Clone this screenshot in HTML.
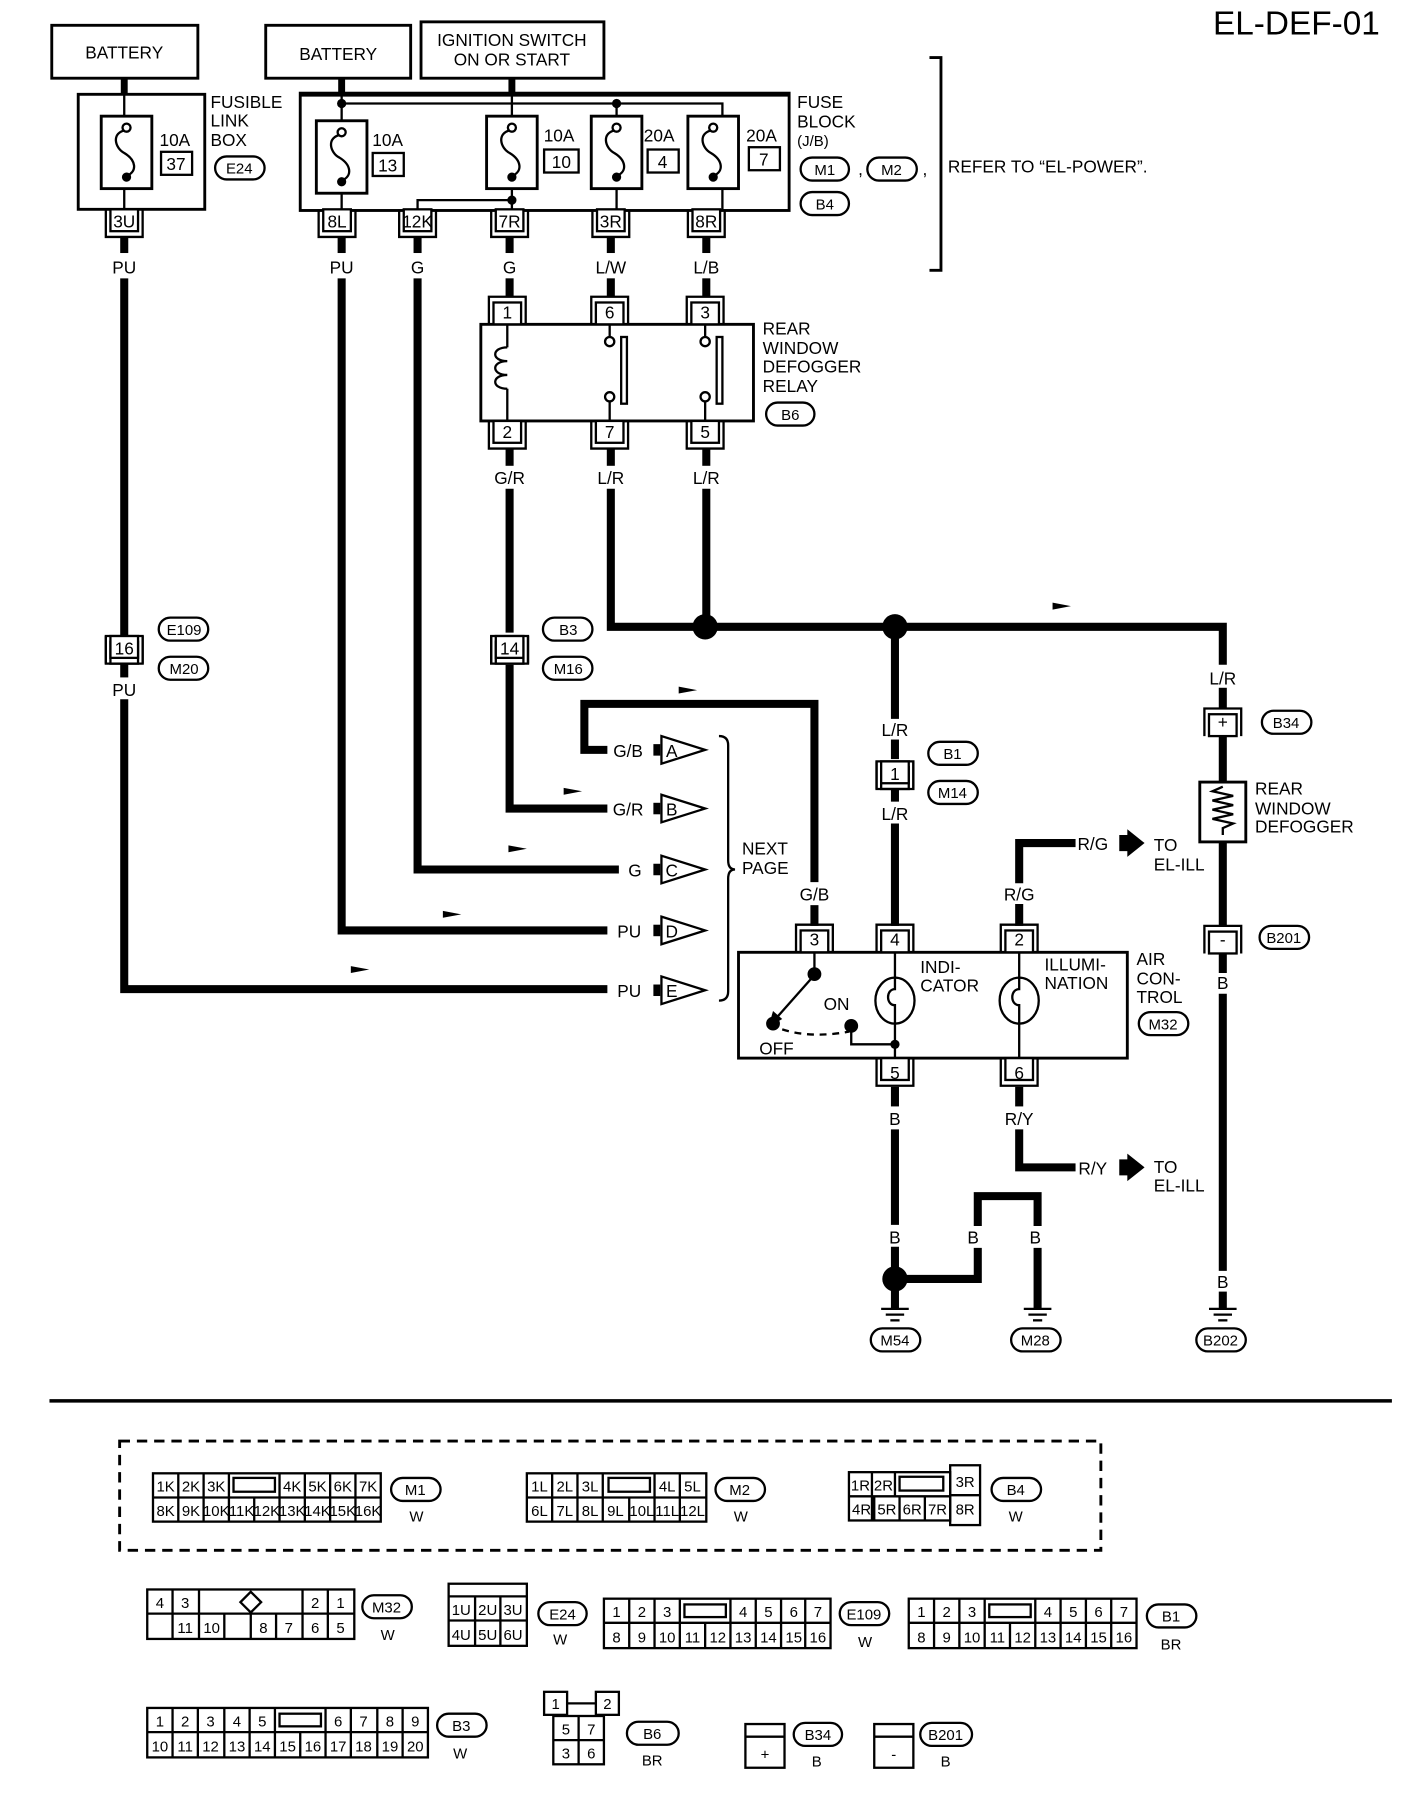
<!DOCTYPE html>
<html><head><meta charset="utf-8"><style>
html,body{margin:0;padding:0;background:#fff}
svg{display:block}
text{font-family:"Liberation Sans",sans-serif;font-size:15px;fill:#000}
.c{text-anchor:middle}
.s{font-size:13px}
</style></head><body>
<svg width="1408" height="1808" viewBox="0 0 1224 1572" preserveAspectRatio="none" xmlns="http://www.w3.org/2000/svg">
<defs>
<g id="cb"><path d="M-16,0 V24 H16 V0" fill="none" stroke="#000" stroke-width="2"/><rect x="-12" y="0" width="24" height="19" fill="#fff" stroke="#000" stroke-width="2"/></g>
<g id="ct"><path d="M-16,24 V0 H16 V24" fill="none" stroke="#000" stroke-width="2"/><rect x="-12" y="5" width="24" height="19" fill="#fff" stroke="#000" stroke-width="2"/></g>
<g id="gnd"><line x1="-12" y1="0" x2="12" y2="0" stroke="#000" stroke-width="2"/><line x1="-8" y1="5" x2="8" y2="5" stroke="#000" stroke-width="2"/><line x1="-4" y1="10" x2="4" y2="10" stroke="#000" stroke-width="2"/></g>
<g id="fuse"><rect x="-22" y="0" width="44" height="63" fill="#fff" stroke="#000" stroke-width="2.5"/><path d="M0,12 C-14,14 -10,28 -2,32 C8,38 10,48 0,52" fill="none" stroke="#000" stroke-width="2"/><circle cx="0" cy="10" r="3.5" fill="#fff" stroke="#000" stroke-width="2"/><circle cx="0" cy="53" r="4" fill="#000"/></g>
<g id="tri"><polygon points="0,-12 38,0 0,12" fill="#fff" stroke="#000" stroke-width="2"/><rect x="-7" y="-5" width="6" height="10" fill="#000"/></g>
<g id="arr"><polygon points="0,-3 16,0 0,3" fill="#000"/></g>
</defs>
<g fill="none" stroke="#000">
<rect x="45" y="22" width="127" height="46" stroke-width="2.5"/>
<rect x="231" y="22" width="126" height="46" stroke-width="2.5"/>
<rect x="366" y="19" width="159" height="49" stroke-width="2.5"/>
<rect x="68" y="82" width="110" height="100" stroke-width="2.5"/>
<rect x="261" y="81" width="425" height="102" stroke-width="2.5"/>
<line x1="261" y1="82" x2="686" y2="82" stroke-width="4"/>
<line x1="108" y1="68" x2="108" y2="83" stroke-width="6"/>
<line x1="297" y1="68" x2="297" y2="83" stroke-width="6"/>
<line x1="445" y1="68" x2="445" y2="83" stroke-width="6"/>
<line x1="108" y1="82" x2="108" y2="182" stroke-width="2"/>
<polyline points="297,82 297,182" stroke-width="2"/>
<polyline points="297,90 628,90 628,182" stroke-width="2"/>
<line x1="445" y1="82" x2="445" y2="182" stroke-width="2"/>
<line x1="536" y1="90" x2="536" y2="182" stroke-width="2"/>
<polyline points="363,183 363,174 445,174" stroke-width="2"/>
<polyline points="808,50 818,50 818,235 808,235" stroke-width="2.5"/>
<line x1="108" y1="206" x2="108" y2="220" stroke-width="7"/>
<line x1="108" y1="242" x2="108" y2="553" stroke-width="7"/>
<polyline points="108,577 108,589" stroke-width="7"/>
<polyline points="108,608 108,860 528,860" stroke-width="7"/>
<line x1="297" y1="206" x2="297" y2="220" stroke-width="7"/>
<polyline points="297,242 297,809 528,809" stroke-width="7"/>
<line x1="363" y1="206" x2="363" y2="220" stroke-width="7"/>
<polyline points="363,242 363,756 538,756" stroke-width="7"/>
<line x1="443" y1="206" x2="443" y2="220" stroke-width="7"/>
<line x1="443" y1="242" x2="443" y2="258" stroke-width="7"/>
<line x1="531" y1="206" x2="531" y2="220" stroke-width="7"/>
<line x1="531" y1="242" x2="531" y2="258" stroke-width="7"/>
<line x1="614" y1="206" x2="614" y2="220" stroke-width="7"/>
<line x1="614" y1="242" x2="614" y2="258" stroke-width="7"/>
<rect x="418" y="282" width="237" height="84" stroke-width="2.5"/>
<line x1="441" y1="282" x2="441" y2="302" stroke-width="2"/>
<path d="M441,302 c-14,0 -14,12 0,12 c-14,0 -14,12 0,12 c-14,0 -14,12 0,12" stroke-width="2"/>
<line x1="441" y1="338" x2="441" y2="366" stroke-width="2"/>
<line x1="530" y1="282" x2="530" y2="293" stroke-width="2"/><line x1="530" y1="349" x2="530" y2="366" stroke-width="2"/>
<circle cx="530" cy="297" r="4" stroke-width="2" fill="#fff"/><circle cx="530" cy="345" r="4" stroke-width="2" fill="#fff"/>
<rect x="540" y="293" width="5" height="58" stroke-width="2"/>
<line x1="613" y1="282" x2="613" y2="293" stroke-width="2"/><line x1="613" y1="349" x2="613" y2="366" stroke-width="2"/>
<circle cx="613" cy="297" r="4" stroke-width="2" fill="#fff"/><circle cx="613" cy="345" r="4" stroke-width="2" fill="#fff"/>
<rect x="623" y="293" width="5" height="58" stroke-width="2"/>
<line x1="443" y1="390" x2="443" y2="405" stroke-width="7"/>
<polyline points="443,425 443,550" stroke-width="7"/>
<polyline points="443,578 443,703 528,703" stroke-width="7"/>
<line x1="531" y1="390" x2="531" y2="405" stroke-width="7"/>
<polyline points="531,425 531,545 1063,545 1063,578" stroke-width="7"/>
<line x1="614" y1="390" x2="614" y2="405" stroke-width="7"/>
<line x1="614" y1="425" x2="614" y2="545" stroke-width="7"/>
<line x1="778" y1="545" x2="778" y2="625" stroke-width="7"/>
<line x1="778" y1="643" x2="778" y2="660" stroke-width="7"/>
<line x1="778" y1="686" x2="778" y2="697" stroke-width="7"/>
<line x1="778" y1="716" x2="778" y2="805" stroke-width="7"/>
<line x1="1063" y1="598" x2="1063" y2="616" stroke-width="7"/>
<line x1="1063" y1="640" x2="1063" y2="680" stroke-width="7"/>
<line x1="1063" y1="732" x2="1063" y2="805" stroke-width="7"/>
<line x1="1063" y1="829" x2="1063" y2="846" stroke-width="7"/>
<line x1="1063" y1="864" x2="1063" y2="1105" stroke-width="7"/>
<line x1="1063" y1="1123" x2="1063" y2="1138" stroke-width="7"/>
<rect x="1043" y="680" width="40" height="52" stroke-width="2.5"/>
<path d="M1063,684 l-9,4 l18,4 l-18,4 l18,4 l-18,4 l18,4 l-18,4 l18,4 l-9,4 v6" stroke-width="2"/>
<polyline points="708,805 708,787" stroke-width="7"/>
<polyline points="708,767 708,612 508,612 508,652 528,652" stroke-width="7"/>
<polyline points="886,805 886,786" stroke-width="7"/>
<polyline points="886,768 886,733 935,733" stroke-width="7"/>
<polyline points="886,945 886,962" stroke-width="7"/>
<polyline points="886,982 886,1015 935,1015" stroke-width="7"/>
<line x1="778" y1="945" x2="778" y2="962" stroke-width="7"/>
<line x1="778" y1="982" x2="778" y2="1065" stroke-width="7"/>
<polyline points="778,1084 778,1138" stroke-width="7"/>
<polyline points="778,1112 850,1112 850,1085" stroke-width="7"/>
<polyline points="850,1066 850,1040 902,1040 902,1066" stroke-width="7"/>
<line x1="902" y1="1085" x2="902" y2="1138" stroke-width="7"/>
<rect x="642" y="828" width="338" height="92" stroke-width="2.5"/>
<line x1="708" y1="828" x2="708" y2="846" stroke-width="2"/>
<line x1="706" y1="850" x2="675" y2="885" stroke-width="2"/>
<path d="M680,895 q25,8 58,2" stroke-width="2" stroke-dasharray="6,5"/>
<polyline points="740,897 740,908 778,908" stroke-width="2"/>
<line x1="778" y1="828" x2="778" y2="920" stroke-width="2"/>
<ellipse cx="778" cy="870" rx="17" ry="20" stroke-width="2" fill="#fff"/>
<path d="M778,850 v10 c-8,0 -8,14 0,14 v16" stroke-width="2"/>
<line x1="886" y1="828" x2="886" y2="920" stroke-width="2"/>
<ellipse cx="886" cy="870" rx="17" ry="20" stroke-width="2" fill="#fff"/>
<path d="M886,850 v10 c-8,0 -8,14 0,14 v16" stroke-width="2"/>
<path d="M625,640 q8,0 8,8 v100 q0,8 6,8 q-6,0 -6,8 v98 q0,8 -8,8" stroke-width="2"/>
<line x1="43" y1="1218" x2="1210" y2="1218" stroke-width="3"/>
<rect x="104" y="1253" width="853" height="95" stroke-width="2.5" stroke-dasharray="9,6"/>
</g>
<g fill="#000">
<circle cx="297" cy="90" r="4"/><circle cx="536" cy="90" r="4"/><circle cx="445" cy="174" r="4"/>
<circle cx="613" cy="545" r="11"/><circle cx="778" cy="545" r="11"/><circle cx="778" cy="1112" r="11"/>
<circle cx="708" cy="847" r="6"/><circle cx="672" cy="890" r="6"/><circle cx="740" cy="892" r="6"/><circle cx="778" cy="908" r="4"/>
<polygon points="668,893 672,879 680,886"/>
</g>
<use href="#fuse" x="110" y="101"/>
<use href="#fuse" x="297" y="105"/>
<use href="#fuse" x="445" y="101"/>
<use href="#fuse" x="536" y="101"/>
<use href="#fuse" x="620" y="101"/>
<g fill="#fff" stroke="#000" stroke-width="2">
<rect x="140" y="132" width="27" height="20"/><rect x="324" y="133" width="27" height="20"/>
<rect x="473" y="130" width="30" height="20"/><rect x="563" y="130" width="27" height="20"/><rect x="651" y="128" width="27" height="20"/>
</g>
<use href="#cb" x="108" y="182"/><use href="#cb" x="293" y="182"/><use href="#cb" x="363" y="182"/>
<use href="#cb" x="443" y="182"/><use href="#cb" x="531" y="182"/><use href="#cb" x="614" y="182"/>
<use href="#ct" x="441" y="258"/><use href="#ct" x="530" y="258"/><use href="#ct" x="613" y="258"/>
<use href="#cb" x="441" y="366"/><use href="#cb" x="530" y="366"/><use href="#cb" x="613" y="366"/>
<use href="#ct" x="108" y="553"/><use href="#cb" x="108" y="553"/>
<use href="#ct" x="443" y="553"/><use href="#cb" x="443" y="553"/>
<use href="#ct" x="778" y="662"/><use href="#cb" x="778" y="662"/>
<use href="#ct" x="1063" y="616"/><use href="#ct" x="1063" y="805"/>
<use href="#ct" x="708" y="804"/><use href="#ct" x="778" y="804"/><use href="#ct" x="886" y="804"/>
<use href="#cb" x="778" y="920"/><use href="#cb" x="886" y="920"/>
<use href="#tri" x="575" y="652"/><use href="#tri" x="575" y="703"/><use href="#tri" x="575" y="756"/><use href="#tri" x="575" y="809"/><use href="#tri" x="575" y="861"/>
<use href="#arr" x="590" y="600"/><use href="#arr" x="490" y="688"/><use href="#arr" x="442" y="738"/><use href="#arr" x="385" y="795"/><use href="#arr" x="305" y="843"/><use href="#arr" x="915" y="527"/>
<polygon points="973,726 980,726 980,721 995,733 980,745 980,740 973,740" fill="#000"/>
<polygon points="973,1008 980,1008 980,1003 995,1015 980,1027 980,1022 973,1022" fill="#000"/>
<use href="#gnd" x="778" y="1138"/><use href="#gnd" x="902" y="1138"/><use href="#gnd" x="1063" y="1138"/>
<g fill="#fff" stroke="#000" stroke-width="2">
<rect x="187" y="136" width="43" height="20" rx="10"/>
<rect x="696" y="137" width="42" height="20" rx="10"/><rect x="754" y="137" width="43" height="20" rx="10"/>
<rect x="696" y="167" width="42" height="20" rx="10"/>
<rect x="666" y="350" width="42" height="20" rx="10"/>
<rect x="138" y="537" width="43" height="20" rx="10"/><rect x="138" y="571" width="43" height="20" rx="10"/>
<rect x="472" y="537" width="43" height="20" rx="10"/><rect x="472" y="571" width="43" height="20" rx="10"/>
<rect x="807" y="645" width="43" height="20" rx="10"/><rect x="807" y="679" width="43" height="20" rx="10"/>
<rect x="1097" y="618" width="43" height="20" rx="10"/><rect x="1095" y="805" width="43" height="20" rx="10"/>
<rect x="990" y="880" width="43" height="20" rx="10"/>
<rect x="757" y="1155" width="43" height="20" rx="10"/><rect x="879" y="1155" width="43" height="20" rx="10"/><rect x="1040" y="1155" width="43" height="20" rx="10"/>
<rect x="340" y="1285" width="43" height="20" rx="10"/><rect x="622" y="1285" width="43" height="20" rx="10"/><rect x="862" y="1285" width="43" height="20" rx="10"/>
<rect x="315" y="1387" width="43" height="20" rx="10"/><rect x="468" y="1393" width="42" height="20" rx="10"/>
<rect x="730" y="1393" width="43" height="20" rx="10"/><rect x="997" y="1395" width="43" height="20" rx="10"/>
<rect x="380" y="1490" width="43" height="20" rx="10"/><rect x="545" y="1497" width="45" height="20" rx="10"/>
<rect x="690" y="1498" width="42" height="20" rx="10"/><rect x="800" y="1498" width="45" height="20" rx="10"/>
</g>
<text x="1127" y="30" class="c" style="font-size:29px">EL-DEF-01</text>
<text x="108" y="51" class="c">BATTERY</text>
<text x="294" y="52" class="c">BATTERY</text>
<text x="445" y="40" class="c">IGNITION SWITCH</text><text x="445" y="57" class="c">ON OR START</text>
<text x="183" y="94">FUSIBLE</text><text x="183" y="110">LINK</text><text x="183" y="127">BOX</text>
<text x="208" y="151" class="c s">E24</text>
<text x="152" y="127" class="c">10A</text><text x="153" y="148" class="c">37</text>
<text x="337" y="127" class="c">10A</text><text x="337" y="149" class="c">13</text>
<text x="486" y="123" class="c">10A</text><text x="488" y="146" class="c">10</text>
<text x="573" y="123" class="c">20A</text><text x="576" y="146" class="c">4</text>
<text x="662" y="123" class="c">20A</text><text x="664" y="144" class="c">7</text>
<text x="693" y="94">FUSE</text><text x="693" y="111">BLOCK</text><text x="693" y="127" class="s">(J/B)</text>
<text x="717" y="152" class="c s">M1</text><text x="746" y="152">,</text><text x="775" y="152" class="c s">M2</text><text x="802" y="152">,</text>
<text x="717" y="182" class="c s">B4</text>
<text x="824" y="150">REFER TO “EL-POWER”.</text>
<text x="108" y="198" class="c">3U</text><text x="293" y="198" class="c">8L</text><text x="363" y="198" class="c">12K</text>
<text x="443" y="198" class="c">7R</text><text x="531" y="198" class="c">3R</text><text x="614" y="198" class="c">8R</text>
<text x="108" y="238" class="c">PU</text><text x="297" y="238" class="c">PU</text><text x="363" y="238" class="c">G</text>
<text x="443" y="238" class="c">G</text><text x="531" y="238" class="c">L/W</text><text x="614" y="238" class="c">L/B</text>
<text x="441" y="277" class="c">1</text><text x="530" y="277" class="c">6</text><text x="613" y="277" class="c">3</text>
<text x="441" y="381" class="c">2</text><text x="530" y="381" class="c">7</text><text x="613" y="381" class="c">5</text>
<text x="663" y="291">REAR</text><text x="663" y="308">WINDOW</text><text x="663" y="324">DEFOGGER</text><text x="663" y="341">RELAY</text>
<text x="687" y="365" class="c s">B6</text>
<text x="443" y="421" class="c">G/R</text><text x="531" y="421" class="c">L/R</text><text x="614" y="421" class="c">L/R</text>
<text x="108" y="569" class="c">16</text><text x="443" y="569" class="c">14</text><text x="108" y="605" class="c">PU</text>
<text x="160" y="552" class="c s">E109</text><text x="160" y="586" class="c s">M20</text>
<text x="494" y="552" class="c s">B3</text><text x="494" y="586" class="c s">M16</text>
<text x="1063" y="595" class="c">L/R</text><text x="1063" y="633" class="c">+</text><text x="1118" y="633" class="c s">B34</text>
<text x="1091" y="691">REAR</text><text x="1091" y="708">WINDOW</text><text x="1091" y="724">DEFOGGER</text>
<text x="1063" y="822" class="c">-</text><text x="1116" y="820" class="c s">B201</text>
<text x="1063" y="860" class="c">B</text><text x="1063" y="1120" class="c">B</text>
<text x="778" y="640" class="c">L/R</text><text x="778" y="678" class="c">1</text><text x="778" y="713" class="c">L/R</text>
<text x="828" y="660" class="c s">B1</text><text x="828" y="694" class="c s">M14</text>
<text x="546" y="658" class="c">G/B</text><text x="546" y="709" class="c">G/R</text><text x="552" y="762" class="c">G</text>
<text x="547" y="815" class="c">PU</text><text x="547" y="867" class="c">PU</text>
<text x="584" y="658" class="c">A</text><text x="584" y="709" class="c">B</text><text x="584" y="762" class="c">C</text><text x="584" y="815" class="c">D</text><text x="584" y="867" class="c">E</text>
<text x="645" y="743">NEXT</text><text x="645" y="760">PAGE</text>
<text x="708" y="783" class="c">G/B</text><text x="886" y="783" class="c">R/G</text>
<text x="708" y="822" class="c">3</text><text x="778" y="822" class="c">4</text><text x="886" y="822" class="c">2</text>
<text x="800" y="846">INDI-</text><text x="800" y="862">CATOR</text>
<text x="908" y="844">ILLUMI-</text><text x="908" y="860">NATION</text>
<text x="716" y="878">ON</text><text x="660" y="917">OFF</text>
<text x="988" y="839">AIR</text><text x="988" y="856">CON-</text><text x="988" y="872">TROL</text>
<text x="1011" y="895" class="c s">M32</text>
<text x="950" y="739" class="c">R/G</text><text x="1003" y="740">TO</text><text x="1003" y="757">EL-ILL</text>
<text x="778" y="938" class="c">5</text><text x="886" y="938" class="c">6</text>
<text x="778" y="978" class="c">B</text><text x="886" y="978" class="c">R/Y</text>
<text x="950" y="1021" class="c">R/Y</text><text x="1003" y="1020">TO</text><text x="1003" y="1036">EL-ILL</text>
<text x="778" y="1081" class="c">B</text><text x="846" y="1081" class="c">B</text><text x="900" y="1081" class="c">B</text>
<text x="778" y="1170" class="c s">M54</text><text x="900" y="1170" class="c s">M28</text><text x="1061" y="1170" class="c s">B202</text>
<text x="361" y="1300" class="c s">M1</text><text x="362" y="1323" class="c s">W</text>
<text x="643" y="1300" class="c s">M2</text><text x="644" y="1323" class="c s">W</text>
<text x="883" y="1300" class="c s">B4</text><text x="883" y="1323" class="c s">W</text>
<text x="336" y="1402" class="c s">M32</text><text x="337" y="1426" class="c s">W</text>
<text x="489" y="1408" class="c s">E24</text><text x="487" y="1430" class="c s">W</text>
<text x="751" y="1408" class="c s">E109</text><text x="752" y="1432" class="c s">W</text>
<text x="1018" y="1410" class="c s">B1</text><text x="1018" y="1434" class="c s">BR</text>
<text x="401" y="1505" class="c s">B3</text><text x="400" y="1529" class="c s">W</text>
<text x="567" y="1512" class="c s">B6</text><text x="567" y="1535" class="c s">BR</text>
<text x="711" y="1513" class="c s">B34</text><text x="710" y="1536" class="c s">B</text>
<text x="822" y="1513" class="c s">B201</text><text x="822" y="1536" class="c s">B</text>
<g fill="none" stroke="#000" stroke-width="2">
<rect x="133" y="1281" width="198" height="42"/><line x1="133" y1="1302" x2="331" y2="1302"/>
<path d="M155,1281v42M177,1281v42M199,1281v42M243,1281v42M265,1281v42M287,1281v42M309,1281v42M221,1302v21"/>
<rect x="203" y="1285" width="36" height="12"/>
<rect x="458" y="1281" width="156" height="42"/><line x1="458" y1="1302" x2="614" y2="1302"/>
<path d="M480,1281v42M502,1281v42M524,1281v42M569,1281v42M591,1281v42M547,1302v21"/>
<rect x="529" y="1285" width="36" height="12"/>
<rect x="738" y="1280" width="88" height="42"/><line x1="738" y1="1301" x2="826" y2="1301"/>
<path d="M758,1280v42M778,1280v21M760,1301v21M782,1301v21M804,1301v21"/>
<rect x="782" y="1284" width="38" height="12"/>
<rect x="826" y="1274" width="26" height="52"/><line x1="826" y1="1300" x2="852" y2="1300"/>
<rect x="128" y="1382" width="180" height="43"/><line x1="128" y1="1403" x2="308" y2="1403"/>
<path d="M150,1382v43M173,1382v43M263,1382v43M285,1382v43M195,1403v22M218,1403v22M240,1403v22"/>
<polygon points="218,1384 227,1393 218,1402 209,1393"/>
<rect x="390" y="1377" width="68" height="54"/><line x1="390" y1="1388" x2="458" y2="1388"/><line x1="390" y1="1409" x2="458" y2="1409"/>
<path d="M413,1388v43M435,1388v43"/>
<rect x="525" y="1390" width="197" height="43"/><line x1="525" y1="1411" x2="722" y2="1411"/>
<path d="M547,1390v43M569,1390v43M591,1390v43M635,1390v43M657,1390v43M679,1390v43M700,1390v43M613,1411v22"/>
<rect x="595" y="1395" width="36" height="11"/>
<rect x="790" y="1390" width="198" height="43"/><line x1="790" y1="1411" x2="988" y2="1411"/>
<path d="M812,1390v43M834,1390v43M856,1390v43M900,1390v43M922,1390v43M944,1390v43M966,1390v43M878,1411v22"/>
<rect x="860" y="1395" width="36" height="11"/>
<rect x="128" y="1485" width="244" height="43"/><line x1="128" y1="1506" x2="372" y2="1506"/>
<path d="M150,1485v43M172,1485v43M195,1485v43M217,1485v43M239,1485v43M283,1485v43M305,1485v43M328,1485v43M350,1485v43M261,1506v22"/>
<rect x="243" y="1490" width="36" height="11"/>
<rect x="473" y="1471" width="20" height="20"/><rect x="518" y="1471" width="20" height="20"/><line x1="493" y1="1481" x2="518" y2="1481"/>
<rect x="481" y="1492" width="44" height="42"/><line x1="481" y1="1513" x2="525" y2="1513"/><line x1="503" y1="1492" x2="503" y2="1534"/>
<rect x="648" y="1499" width="34" height="38"/><line x1="648" y1="1510" x2="682" y2="1510"/>
<rect x="760" y="1499" width="34" height="38"/><line x1="760" y1="1510" x2="794" y2="1510"/>
</g>
<g>
<text x="144" y="1297" class="c s">1K</text><text x="166" y="1297" class="c s">2K</text><text x="188" y="1297" class="c s">3K</text><text x="254" y="1297" class="c s">4K</text><text x="276" y="1297" class="c s">5K</text><text x="298" y="1297" class="c s">6K</text><text x="320" y="1297" class="c s">7K</text>
<text x="144" y="1318" class="c s">8K</text><text x="166" y="1318" class="c s">9K</text><text x="188" y="1318" class="c s">10K</text><text x="210" y="1318" class="c s">11K</text><text x="232" y="1318" class="c s">12K</text><text x="254" y="1318" class="c s">13K</text><text x="276" y="1318" class="c s">14K</text><text x="298" y="1318" class="c s">15K</text><text x="320" y="1318" class="c s">16K</text>
<text x="469" y="1297" class="c s">1L</text><text x="491" y="1297" class="c s">2L</text><text x="513" y="1297" class="c s">3L</text><text x="580" y="1297" class="c s">4L</text><text x="602" y="1297" class="c s">5L</text>
<text x="469" y="1318" class="c s">6L</text><text x="491" y="1318" class="c s">7L</text><text x="513" y="1318" class="c s">8L</text><text x="535" y="1318" class="c s">9L</text><text x="558" y="1318" class="c s">10L</text><text x="580" y="1318" class="c s">11L</text><text x="602" y="1318" class="c s">12L</text>
<text x="748" y="1296" class="c s">1R</text><text x="768" y="1296" class="c s">2R</text><text x="839" y="1293" class="c s">3R</text>
<text x="749" y="1317" class="c s">4R</text><text x="771" y="1317" class="c s">5R</text><text x="793" y="1317" class="c s">6R</text><text x="815" y="1317" class="c s">7R</text><text x="839" y="1317" class="c s">8R</text>
<text x="139" y="1398" class="c s">4</text><text x="161" y="1398" class="c s">3</text><text x="274" y="1398" class="c s">2</text><text x="296" y="1398" class="c s">1</text>
<text x="161" y="1420" class="c s">11</text><text x="184" y="1420" class="c s">10</text><text x="229" y="1420" class="c s">8</text><text x="251" y="1420" class="c s">7</text><text x="274" y="1420" class="c s">6</text><text x="296" y="1420" class="c s">5</text>
<text x="401" y="1404" class="c s">1U</text><text x="424" y="1404" class="c s">2U</text><text x="446" y="1404" class="c s">3U</text>
<text x="401" y="1426" class="c s">4U</text><text x="424" y="1426" class="c s">5U</text><text x="446" y="1426" class="c s">6U</text>
<text x="536" y="1406" class="c s">1</text><text x="558" y="1406" class="c s">2</text><text x="580" y="1406" class="c s">3</text><text x="646" y="1406" class="c s">4</text><text x="668" y="1406" class="c s">5</text><text x="690" y="1406" class="c s">6</text><text x="711" y="1406" class="c s">7</text>
<text x="536" y="1428" class="c s">8</text><text x="558" y="1428" class="c s">9</text><text x="580" y="1428" class="c s">10</text><text x="602" y="1428" class="c s">11</text><text x="624" y="1428" class="c s">12</text><text x="646" y="1428" class="c s">13</text><text x="668" y="1428" class="c s">14</text><text x="690" y="1428" class="c s">15</text><text x="711" y="1428" class="c s">16</text>
<text x="801" y="1406" class="c s">1</text><text x="823" y="1406" class="c s">2</text><text x="845" y="1406" class="c s">3</text><text x="911" y="1406" class="c s">4</text><text x="933" y="1406" class="c s">5</text><text x="955" y="1406" class="c s">6</text><text x="977" y="1406" class="c s">7</text>
<text x="801" y="1428" class="c s">8</text><text x="823" y="1428" class="c s">9</text><text x="845" y="1428" class="c s">10</text><text x="867" y="1428" class="c s">11</text><text x="889" y="1428" class="c s">12</text><text x="911" y="1428" class="c s">13</text><text x="933" y="1428" class="c s">14</text><text x="955" y="1428" class="c s">15</text><text x="977" y="1428" class="c s">16</text>
<text x="139" y="1501" class="c s">1</text><text x="161" y="1501" class="c s">2</text><text x="183" y="1501" class="c s">3</text><text x="206" y="1501" class="c s">4</text><text x="228" y="1501" class="c s">5</text><text x="294" y="1501" class="c s">6</text><text x="316" y="1501" class="c s">7</text><text x="339" y="1501" class="c s">8</text><text x="361" y="1501" class="c s">9</text>
<text x="139" y="1523" class="c s">10</text><text x="161" y="1523" class="c s">11</text><text x="183" y="1523" class="c s">12</text><text x="206" y="1523" class="c s">13</text><text x="228" y="1523" class="c s">14</text><text x="250" y="1523" class="c s">15</text><text x="272" y="1523" class="c s">16</text><text x="294" y="1523" class="c s">17</text><text x="316" y="1523" class="c s">18</text><text x="339" y="1523" class="c s">19</text><text x="361" y="1523" class="c s">20</text>
<text x="483" y="1486" class="c s">1</text><text x="528" y="1486" class="c s">2</text>
<text x="492" y="1508" class="c s">5</text><text x="514" y="1508" class="c s">7</text><text x="492" y="1529" class="c s">3</text><text x="514" y="1529" class="c s">6</text>
<text x="665" y="1530" class="c s">+</text><text x="777" y="1530" class="c s">-</text>
</g>
</svg>
</body></html>
